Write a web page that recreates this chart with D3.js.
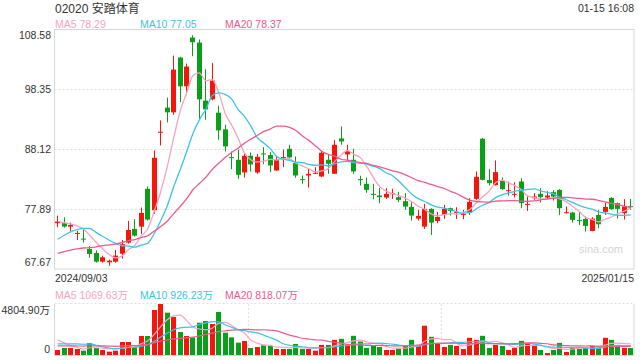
<!DOCTYPE html>
<html>
<head>
<meta charset="utf-8">
<style>
  body { margin: 0; background: #fff; }
  .canvas { width: 640px; height: 360px; }
  text { font-family: "Liberation Sans", Arial, "Noto Sans CJK SC", sans-serif; }
</style>
<script src="https://cdn.jsdelivr.net/npm/d3@7"></script>
</head>
<body>
<div class="canvas"></div>
<script>
"use strict";

// Daily candles, HKD, 2024/09/03 - 2025/01/15
const opens = [
  75.49, 75.49, 74.91, 73.72, 72.86, 71.09, 70.41, 68.92, 68.81, 68.92,
  70.29, 72.18, 74.52, 74.91, 81.36, 77.71, 90.95, 95.23, 94.43, 103.79,
  98.88, 107.21, 106.35, 96.43, 96.65, 94.37, 91.52, 86.78, 86.33, 84.16,
  87.01, 84.16, 87.41, 87.13, 84.5, 86.67, 88.21, 85.76, 83.02, 83.64,
  83.99, 83.47, 86.33, 83.93, 89.98, 87.24, 86.33, 83.02, 82.22, 80.51,
  80.22, 79.88, 80.51, 79.94, 79.25, 78.28, 76.28, 74.91, 77.94, 75.88,
  76.91, 78.05, 77.31, 76.97, 77.31, 79.65, 89.92, 82.85, 81.99, 82.73,
  81.02, 80.39, 82.62, 78.68, 79.76, 80.51, 79.88, 80.79, 81.19, 77.25,
  77.31, 76.06, 76.23, 74.17, 76.91, 77.43, 79.82, 78.91, 77.2, 78.4
];
const highs = [
  76.8, 76.51, 75.6, 74.17, 74.63, 71.6, 70.86, 69.95, 69.27, 70.92,
  72.63, 75.88, 76.17, 78.17, 81.76, 87.92, 93.06, 96.94, 104.13, 103.9,
  102.76, 107.61, 106.87, 101.79, 102.87, 95.57, 92.32, 87.75, 88.04, 87.47,
  87.58, 87.3, 88.49, 87.64, 87.01, 88.04, 88.89, 86.9, 83.64, 84.84,
  85.07, 87.92, 87.13, 89.69, 92.03, 88.89, 88.21, 83.59, 83.3, 82.22,
  81.53, 81.48, 81.36, 80.79, 80.62, 79.08, 77.77, 78.79, 78.05, 77.43,
  78.62, 78.17, 78.22, 77.77, 79.76, 84.33, 90.04, 84.73, 86.21, 83.3,
  82.62, 82.5, 83.19, 80.22, 80.62, 81.48, 80.96, 81.13, 81.31, 78.34,
  77.43, 77.43, 76.63, 76.51, 77.77, 78.97, 79.94, 79.02, 79.59, 79.65
];
const lows = [
  74.8, 74.74, 74.17, 72.63, 72.18, 69.61, 68.75, 68.75, 68.24, 68.75,
  69.44, 72.01, 73.2, 73.66, 75.94, 77.08, 88.78, 92.72, 94.03, 96.2,
  97.74, 104.02, 93.29, 93.17, 96.48, 89.75, 87.75, 84.73, 83.07, 83.3,
  84.33, 83.93, 85.58, 84.22, 84.44, 85.07, 86.33, 83.25, 82.22, 81.59,
  83.93, 83.36, 83.93, 83.93, 88.89, 85.98, 83.93, 81.93, 80.68, 79.59,
  78.91, 79.65, 79.65, 79.08, 77.77, 75.94, 75.94, 74.52, 73.49, 75.49,
  76.23, 76.8, 76.23, 76.17, 76.91, 79.48, 82.79, 81.93, 81.93, 81.19,
  80.22, 79.88, 78.05, 77.6, 79.48, 79.02, 79.48, 79.37, 76.91, 77.14,
  75.6, 75.2, 74.06, 74.12, 74.63, 76.91, 77.77, 76.28, 76.11, 77.77
];
const closes = [
  75.77, 74.91, 75.2, 73.83, 72.75, 70.24, 68.92, 69.67, 69.09, 69.95,
  71.89, 74.34, 73.37, 77.25, 76.11, 86.67, 91.12, 94.43, 101.73, 98.88,
  102.25, 106.41, 96.65, 94.94, 99.85, 91.35, 88.61, 86.67, 83.76, 87.01,
  85.53, 86.84, 87.3, 85.36, 86.33, 86.78, 86.73, 83.64, 82.9, 83.93,
  84.1, 87.52, 85.64, 88.89, 89.46, 87.87, 84.33, 82.9, 81.19, 80.39,
  79.94, 80.51, 80.62, 79.48, 78.34, 76.8, 76.74, 77.94, 75.6, 76.57,
  77.94, 77.6, 77.43, 77.08, 79.14, 83.42, 82.9, 82.33, 84.22, 81.31,
  81.13, 80.51, 78.91, 78.79, 80.05, 79.94, 80.22, 80.05, 78.05, 77.37,
  76.06, 75.94, 75.03, 76.28, 75.31, 78.28, 77.88, 77.94, 78.34, 78.28
];
// volume in 万 shares
const volumes = [
  471, 660, 660, 565, 408, 1130, 660, 471, 314, 408,
  1225, 1225, 722, 1790, 1790, 4239, 4804.9, 3988, 3580, 2167,
  1790, 1664, 3046, 3203, 2920, 4051, 2104, 1664, 1162, 1319,
  660, 754, 911, 848, 565, 565, 565, 1036, 565, 565,
  408, 951, 951, 1427, 1522, 951, 1807, 1268, 666, 919,
  761, 476, 476, 602, 856, 1427, 856, 2758, 1712, 1110,
  761, 951, 856, 571, 1617, 1427, 1807, 666, 951, 856,
  476, 666, 1331, 1141, 856, 476, 190, 476, 1141, 285,
  729, 571, 729, 856, 856, 1617, 1427, 824, 666, 666
];
// the 19 sessions before the window, only used to warm up the MAs
const prevCloses = [
  69.0, 70.2, 69.8, 69.5, 69.0, 66.0, 65.8, 66.5, 67.0, 66.7,
  68.0, 69.5, 70.0, 70.5, 70.5, 76.0, 76.2, 75.5, 75.5
];
const prevVolumes = [
  620, 700, 680, 590, 720, 650, 700, 610, 690, 700,
  640, 700, 610, 690, 685, 2100, 1800, 1500, 1264
];

const startDate = "2024/09/03";
const endDate = "2025/01/15";
const priceTicks = [108.58, 98.35, 88.12, 77.89, 67.67];
const volumeTicks = [0, 4804.9];
const maPeriods = [5, 10, 20];
const priceMaLegend = [78.29, 77.05, 78.37];
const volumeMaLegend = [1069.63, 926.23, 818.07];

const colors = {
  up: "#f4160b",
  down: "#0b9f19",
  ma: ["#f8a2c2", "#3ec3e2", "#ee5a8b"],
  grid: "#e0e0e0",
  border: "#d6d6d6",
  text: "#333",
};
const dims = {
  width: 640, height: 360,
  left: 54.5, right: 634,
  priceTop: 29.5, priceBottom: 269,
  volTop: 304, volBottom: 355,
};

function movingAverage(values, history, period) {
  const all = history.concat(values);
  const offset = history.length;
  return values.map((_, i) =>
    d3.mean(all.slice(offset + i - period + 1, offset + i + 1))
  );
}

const svg = d3.select(".canvas").append("svg")
  .attr("width", dims.width)
  .attr("height", dims.height);

const idx = d3.range(closes.length);
const x = d3.scaleBand().domain(idx)
  .range([dims.left, dims.right])
  .paddingInner(0.25).paddingOuter(0.125);
const y = d3.scaleLinear()
  .domain([priceTicks[priceTicks.length - 1], priceTicks[0]])
  .range([dims.priceBottom, dims.priceTop]);
const yVol = d3.scaleLinear()
  .domain(d3.extent(volumeTicks))
  .range([dims.volBottom, dims.volTop]);

const center = (i) => x(i) + x.bandwidth() / 2;
const pixelX = (i) => Math.floor(center(i));
const isUp = (i) => closes[i] >= opens[i];

// ---- header ----
svg.append("text").attr("x", 55).attr("y", 12.5)
  .attr("font-size", 12).attr("fill", colors.text).text("02020 安踏体育");
svg.append("text").attr("x", 634).attr("y", 12).attr("text-anchor", "end")
  .attr("font-size", 10.5).attr("fill", colors.text).text("01-15 16:08");

const legendX = [55, 140, 225];
maPeriods.forEach((p, k) => {
  svg.append("text").attr("x", legendX[k]).attr("y", 27.5)
    .attr("font-size", 10.5).attr("fill", colors.ma[k])
    .text(`MA${p} ${priceMaLegend[k].toFixed(2)}`);
  svg.append("text").attr("x", legendX[k]).attr("y", 298.5)
    .attr("font-size", 10.5).attr("fill", colors.ma[k])
    .text(`MA${p} ${volumeMaLegend[k].toFixed(2)}万`);
});

// ---- price panel ----
const grid = svg.append("g");
grid.selectAll("line").data(priceTicks.slice(1, -1)).join("line")
  .attr("x1", dims.left).attr("x2", dims.right)
  .attr("y1", (d) => Math.round(y(d)) + 0.5)
  .attr("y2", (d) => Math.round(y(d)) + 0.5)
  .attr("stroke", colors.grid).attr("stroke-dasharray", "2,2");

svg.append("rect")
  .attr("x", dims.left).attr("y", dims.priceTop)
  .attr("width", dims.right - dims.left)
  .attr("height", dims.priceBottom - dims.priceTop)
  .attr("fill", "none").attr("stroke", colors.border);

const yAxis = svg.append("g")
  .attr("transform", `translate(${dims.left - 3.5},0)`)
  .call(d3.axisLeft(y).tickValues(priceTicks).tickSize(0).tickPadding(0)
    .tickFormat(d3.format(".2f")));
yAxis.select(".domain").remove();
yAxis.selectAll("text").attr("font-size", 10.5).attr("fill", colors.text)
  .attr("font-family", null)
  .attr("dy", (d, i) => (i === 0 ? "0.85em" : i === priceTicks.length - 1 ? "-0.3em" : "0.32em"));
yAxis.attr("font-family", null);

svg.append("text").attr("x", 623).attr("y", 253).attr("text-anchor", "end")
  .attr("font-size", 11).attr("fill", "#d4d4d4").text("sina.com");

const candles = svg.append("g").selectAll("g").data(idx).join("g")
  .attr("fill", (i) => (isUp(i) ? colors.up : colors.down));
candles.append("rect")
  .attr("x", (i) => pixelX(i))
  .attr("width", 1)
  .attr("y", (i) => y(highs[i]))
  .attr("height", (i) => Math.max(1, y(lows[i]) - y(highs[i])));
candles.append("rect")
  .attr("x", (i) => pixelX(i) - 2)
  .attr("width", 5)
  .attr("y", (i) => y(Math.max(opens[i], closes[i])))
  .attr("height", (i) => Math.max(1, Math.abs(y(opens[i]) - y(closes[i]))));

maPeriods.forEach((p, k) => {
  const ma = movingAverage(closes, prevCloses, p);
  svg.append("path")
    .datum(idx)
    .attr("fill", "none")
    .attr("stroke", colors.ma[k])
    .attr("stroke-width", 1.3)
    .attr("d", d3.line().x(center).y((i) => y(ma[i])).curve(d3.curveMonotoneX));
});

// ---- dates ----
svg.append("text").attr("x", 55).attr("y", 282)
  .attr("font-size", 10.5).attr("fill", colors.text).text(startDate);
svg.append("text").attr("x", 634).attr("y", 282).attr("text-anchor", "end")
  .attr("font-size", 10.5).attr("fill", colors.text).text(endDate);

// ---- volume panel ----
const volWidth = dims.right - dims.left;
svg.append("g").selectAll("line")
  .data([dims.left + volWidth / 3, dims.left + (2 * volWidth) / 3])
  .join("line")
  .attr("x1", (d) => Math.round(d) + 0.5).attr("x2", (d) => Math.round(d) + 0.5)
  .attr("y1", dims.volTop).attr("y2", dims.volBottom)
  .attr("stroke", colors.grid).attr("stroke-dasharray", "2,2");
svg.append("line")
  .attr("x1", dims.left).attr("x2", dims.right)
  .attr("y1", dims.volTop - 0.5).attr("y2", dims.volTop - 0.5)
  .attr("stroke", colors.grid).attr("stroke-dasharray", "2,2");
svg.append("path")
  .attr("d", `M${dims.left},${dims.volTop}V${dims.volBottom + 0.5}H${dims.right}V${dims.volTop}`)
  .attr("fill", "none").attr("stroke", colors.border);

const volAxis = svg.append("g")
  .attr("transform", `translate(${dims.left - 4.5},0)`)
  .call(d3.axisLeft(yVol).tickValues(volumeTicks).tickSize(0).tickPadding(0)
    .tickFormat((d) => (d === 0 ? "0" : `${d.toFixed(2)}万`)));
volAxis.select(".domain").remove();
volAxis.attr("font-family", null);
volAxis.selectAll("text").attr("font-size", 10.5).attr("fill", colors.text)
  .attr("dy", (d) => (d === 0 ? "-0.28em" : "0.95em"));

svg.append("g").selectAll("rect").data(idx).join("rect")
  .attr("fill", (i) => (isUp(i) ? colors.up : colors.down))
  .attr("x", (i) => pixelX(i) - 2)
  .attr("width", 5)
  .attr("y", (i) => yVol(volumes[i]))
  .attr("height", (i) => yVol(0) - yVol(volumes[i]));

maPeriods.forEach((p, k) => {
  const ma = movingAverage(volumes, prevVolumes, p);
  svg.append("path")
    .datum(idx)
    .attr("fill", "none")
    .attr("stroke", colors.ma[k])
    .attr("stroke-width", 1.2)
    .attr("d", d3.line().x(center).y((i) => yVol(ma[i])).curve(d3.curveMonotoneX));
});
</script>
</body>
</html>
